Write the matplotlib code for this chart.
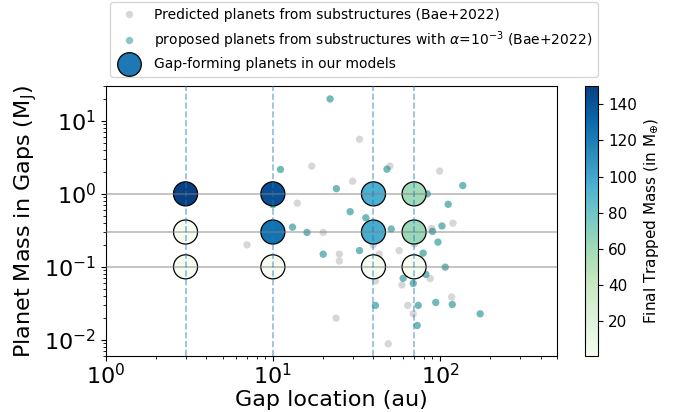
import matplotlib
matplotlib.use('Agg')
import matplotlib.pyplot as plt
from matplotlib.lines import Line2D

# Predicted planets from substructures (Bae+2022)
bae_x = [33.0, 17.1, 50.2, 99.6, 30.0, 14.0, 20.0, 89.2, 119.6, 39.9, 70.2, 7.0,
         25.0, 25.0, 43.3, 57.0, 41.1, 59.2, 87.4, 117.5, 64.1, 69.2, 23.9, 49.0]
bae_y = [5.6, 2.4, 2.4, 2.05, 1.49, 0.746, 0.296, 0.336, 0.397, 0.2, 0.205, 0.2,
         0.149, 0.12, 0.149, 0.167, 0.064, 0.0565, 0.069, 0.0385, 0.0296, 0.0227, 0.0198, 0.0088]

# Proposed planets with alpha = 1e-3 (Bae+2022)
alpha_x = [22.0, 11.1, 48.2, 24.0, 137.0, 84.0, 112.0, 29.0, 36.0, 13.1, 16.0, 51.1,
           102.8, 90.2, 97.3, 33.0, 20.0, 79.3, 107.6, 82.4, 60.2, 69.2, 41.1, 74.1,
           94.4, 118.5, 174.0, 73.1, 10.0]
alpha_y = [20.0, 2.16, 2.18, 1.18, 1.30, 1.0, 0.72, 0.57, 0.47, 0.35, 0.296, 0.33,
           0.363, 0.306, 0.218, 0.167, 0.149, 0.154, 0.099, 0.0787, 0.0696, 0.0593, 0.0296, 0.0296,
           0.0325, 0.0305, 0.0227, 0.0157, 0.71]

# Gap-forming planets in our models
model_x = [3, 3, 3, 10, 10, 10, 40, 40, 40, 70, 70, 70]
model_y = [1.0, 0.3, 0.1, 1.0, 0.3, 0.1, 1.0, 0.3, 0.1, 1.0, 0.3, 0.1]
model_mass = [150, 1.0, 0.8, 142, 125, 1.2, 96, 97, 1.5, 60, 62, 1.5]

gap_locations = [3, 10, 40, 70]
mass_levels = [1.0, 0.3, 0.1]

fig = plt.figure(figsize=(6.74, 4.12), dpi=100)
ax = fig.add_axes([0.157, 0.136, 0.669, 0.655])
cax = fig.add_axes([0.868, 0.136, 0.0197, 0.655])

ax.scatter(bae_x, bae_y, s=28, color='lightgray', alpha=0.9, edgecolors='none', zorder=2)
ax.scatter(alpha_x, alpha_y, s=28, color='teal', alpha=0.55, edgecolors='none', zorder=3)
sc = ax.scatter(model_x, model_y, s=300, c=model_mass, cmap='GnBu', vmin=0.8, vmax=150,
                edgecolors='black', linewidths=0.9, zorder=4)

for m in mass_levels:
    ax.axhline(m, color='gray', alpha=0.5, lw=1.3, zorder=5)
for g in gap_locations:
    ax.axvline(g, color='C0', alpha=0.5, lw=1.2, ls='--', zorder=5)

ax.set_xscale('log')
ax.set_yscale('log')
ax.set_xlim(1, 500)
ax.set_ylim(0.006, 30)
ax.set_xlabel('Gap location (au)', fontsize=16, labelpad=1)
ax.set_ylabel(r'Planet Mass in Gaps (M$_{\rm J}$)', fontsize=16)
ax.tick_params(axis='both', which='major', labelsize=16)
ax.tick_params(axis='x', which='major', pad=1.5)

cb = fig.colorbar(sc, cax=cax)
cb.set_label(r'Final Trapped Mass (in M$_{\oplus}$)', fontsize=11)
cb.ax.tick_params(labelsize=11)
cb.set_ticks([20, 40, 60, 80, 100, 120, 140])

handles = [
    Line2D([], [], ls='none', marker='o', markersize=5.3, markerfacecolor='lightgray',
           markeredgecolor='none', alpha=0.9),
    Line2D([], [], ls='none', marker='o', markersize=5.3, markerfacecolor='teal',
           markeredgecolor='none', alpha=0.45),
    Line2D([], [], ls='none', marker='o', markersize=17, markerfacecolor='C0',
           markeredgecolor='black', markeredgewidth=0.9),
]
labels = ['Predicted planets from substructures (Bae+2022)',
          r'proposed planets from substructures with $\alpha$=10$^{-3}$ (Bae+2022)',
          'Gap-forming planets in our models']
fig.legend(handles, labels, loc='upper center', bbox_to_anchor=(0.525, 1.011), fontsize=10)

fig.savefig('out.png', dpi=100)
